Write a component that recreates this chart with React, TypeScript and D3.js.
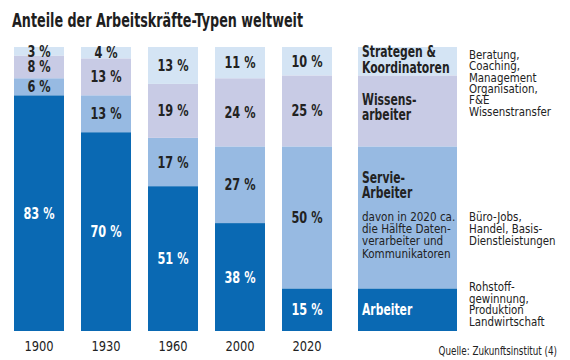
import React from "react";
import * as d3 from "d3";

const years = ["1900", "1930", "1960", "2000", "2020"];
const arbeiter = [83, 70, 51, 38, 15];
const service = [6, 13, 17, 27, 50];
const wissen = [8, 13, 19, 24, 25];
const strategen = [3, 4, 13, 11, 10];

const seriesKeys = ["arbeiter", "service", "wissen", "strategen"];
const seriesColors = ["#0a69b3", "#97bae2", "#c8cbe5", "#d4e4f4"];
const labelColors = ["#ffffff", "#222222", "#222222", "#222222"];

const legendTitles = [["Arbeiter"], ["Servie-", "Arbeiter"], ["Wissens-", "arbeiter"], ["Strategen &", "Koordinatoren"]];
const serviceNote = ["davon in 2020 ca.", "die Hälfte Daten-", "verarbeiter und", "Kommunikatoren"];
const descriptions = [
  ["Rohstoff-", "gewinnung,", "Produktion", "Landwirtschaft"],
  ["Büro-Jobs,", "Handel, Basis-", "Dienstleistungen"],
  ["Beratung,", "Coaching,", "Management", "Organisation,", "F&E", "Wissenstransfer"],
];

const title = "Anteile der Arbeitskräfte-Typen weltweit";
const source = "Quelle: Zukunftsinstitut (4)";

const FONT = "'Liberation Sans Narrow', 'DejaVu Sans Condensed', 'Roboto Condensed', 'Arial Narrow', sans-serif";

function T(props: { x: number; y: number; sx?: number; size: number; bold?: boolean; fill?: string; anchor?: string; children: any }) {
  const { x, y, sx = 1, size, bold, fill = "#222", anchor = "start", children } = props;
  return (
    <text
      transform={`translate(${x},${y}) scale(${sx},1)`}
      fontSize={size}
      fontWeight={bold ? "bold" : "normal"}
      fill={fill}
      textAnchor={anchor}
    >
      {children}
    </text>
  );
}

export default function App() {
  const W = 570, H = 360;
  const rows = years.map((y, i) => ({
    year: y,
    arbeiter: arbeiter[i],
    service: service[i],
    wissen: wissen[i],
    strategen: strategen[i],
  }));
  const stack = d3.stack<any>().keys(seriesKeys)(rows);
  const x = d3.scaleBand().domain(years).range([14, 332]).paddingInner(0.2537).paddingOuter(0);
  const y = d3.scaleLinear().domain([0, 100]).range([331, 47]);

  const legX = 358, legW = 99;
  const last = years.length - 1;

  return (
    <svg width={W} height={H} style={{ position: "absolute", left: 0, top: 0, background: "#fff" }} fontFamily={FONT}>
      <text x={12} y={27} fontSize={19} fontWeight="bold" fill="#1e1e1e" textLength={291} lengthAdjust="spacingAndGlyphs">{title}</text>
      {stack.map((s, si) => (
        <g key={s.key}>
          {s.map((d, i) => {
            const y0 = y(d[1]);
            const y1 = y(d[0]);
            const xx = x(years[i])!;
            return (
              <g key={i}>
                <rect x={xx} y={y0} width={x.bandwidth()} height={y1 - y0} fill={seriesColors[si]} />
                <T x={xx + x.bandwidth() / 2} y={(y0 + y1) / 2 + 5.5} sx={0.84} size={15} bold anchor="middle" fill={labelColors[si]}>
                  {`${d[1] - d[0]} %`}
                </T>
              </g>
            );
          })}
        </g>
      ))}
      {years.map((yr) => (
        <T key={yr} x={x(yr)! + x.bandwidth() / 2} y={351} sx={0.88} size={14.5} anchor="middle">{yr}</T>
      ))}
      {stack.map((s, si) => {
        const d = s[last];
        const y0 = y(d[1]);
        const y1 = y(d[0]);
        return <rect key={s.key} x={legX} y={y0} width={legW} height={y1 - y0} fill={seriesColors[si]} />;
      })}
      {legendTitles[3].map((t, i) => (
        <T key={t} x={362} y={57 + i * 15.5} sx={0.8} size={15} bold>{t}</T>
      ))}
      {legendTitles[2].map((t, i) => (
        <T key={t} x={362} y={105 + i * 15} sx={0.8} size={15} bold>{t}</T>
      ))}
      {legendTitles[1].map((t, i) => (
        <T key={t} x={362} y={183 + i * 15} sx={0.8} size={15} bold>{t}</T>
      ))}
      {serviceNote.map((t, i) => (
        <T key={t} x={362} y={221 + i * 12.2} sx={0.98} size={11.8}>{t}</T>
      ))}
      {legendTitles[0].map((t) => (
        <T key={t} x={362} y={315} sx={0.8} size={15} bold fill="#fff">{t}</T>
      ))}
      {descriptions[2].map((t, i) => (
        <T key={t} x={469} y={59 + i * 11.3} sx={1} size={11.4}>{t}</T>
      ))}
      {descriptions[1].map((t, i) => (
        <T key={t} x={469} y={221 + i * 12} sx={1} size={11.4}>{t}</T>
      ))}
      {descriptions[0].map((t, i) => (
        <T key={t} x={469} y={291 + i * 11.5} sx={1} size={11.4}>{t}</T>
      ))}
      <T x={557} y={355} sx={0.85} size={11.5} anchor="end">{source}</T>
    </svg>
  );
}
